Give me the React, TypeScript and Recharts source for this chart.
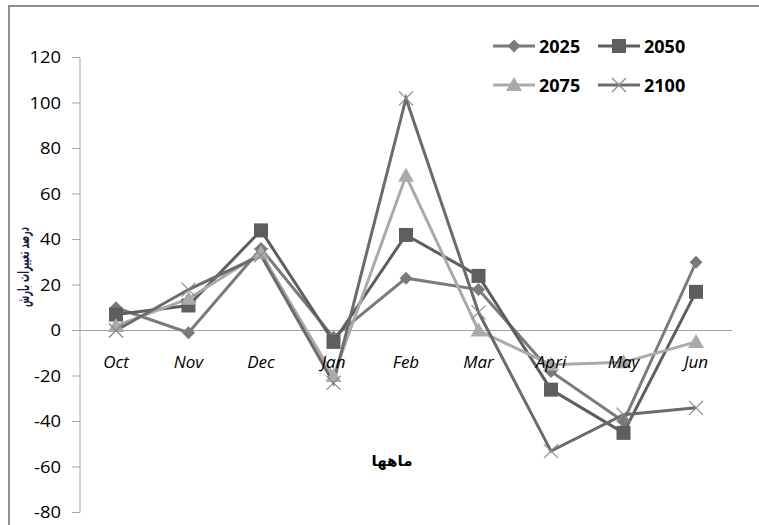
import React from "react";
import { LineChart, Line, XAxis, YAxis, ReferenceLine } from "recharts";

const months = ["Oct", "Nov", "Dec", "Jan", "Feb", "Mar", "Apri", "May", "Jun"];
const s2025 = [10, -1, 36, -3, 23, 18, -18, -40, 30];
const s2050 = [7, 11, 44, -5, 42, 24, -26, -45, 17];
const s2075 = [2, 14, 34, -20, 68, 0, -15, -14, -5];
const s2100 = [0, 18, 33, -23, 102, 8, -53, -37, -34];
const yTicks = [-80, -60, -40, -20, 0, 20, 40, 60, 80, 100, 120];

const series = [
  { key: "2025", values: s2025, color: "#7a7a7a", marker: "diamond" },
  { key: "2050", values: s2050, color: "#5e5e5e", marker: "square" },
  { key: "2075", values: s2075, color: "#aaaaaa", marker: "triangle" },
  { key: "2100", values: s2100, color: "#6b6b6b", marker: "x" },
];

const data = months.map((m, i) => {
  const row: any = { month: m };
  series.forEach((s) => (row[s.key] = s.values[i]));
  return row;
});

const W = 759;
const H = 525;
const TOP = 57.5;
const BOTTOM = 12.5;
const LEFT_AXIS = 80;
const RIGHT = 27;
const Y_MIN = -80;
const Y_MAX = 120;
const plotH = H - TOP - BOTTOM;
const zeroY = TOP + (plotH * (Y_MAX - 0)) / (Y_MAX - Y_MIN);

function Marker({ kind, cx, cy, color }: any) {
  if (cx == null || cy == null) return null;
  if (kind === "diamond") {
    const r = 6.5;
    return (
      <polygon
        points={`${cx},${cy - r} ${cx + r},${cy} ${cx},${cy + r} ${cx - r},${cy}`}
        fill={color}
      />
    );
  }
  if (kind === "square") {
    const r = 7;
    return <rect x={cx - r} y={cy - r} width={2 * r} height={2 * r} fill={color} />;
  }
  if (kind === "triangle") {
    return (
      <polygon
        points={`${cx},${cy - 8} ${cx + 8},${cy + 6} ${cx - 8},${cy + 6}`}
        fill={color}
      />
    );
  }
  const r = 7;
  return (
    <g stroke="#8a8a8a" strokeWidth={1.2}>
      <line x1={cx - r} y1={cy - r} x2={cx + r} y2={cy + r} />
      <line x1={cx - r} y1={cy + r} x2={cx + r} y2={cy - r} />
    </g>
  );
}

const XTick = (props: any) => {
  const { x, payload } = props;
  return (
    <text
      x={x}
      y={zeroY + 37}
      textAnchor="middle"
      fontFamily="'Open Sans', sans-serif"
      fontStyle="italic"
      fontSize={17}
      fill="#000"
    >
      {payload.value}
    </text>
  );
};

const YTick = (props: any) => {
  const { y, payload } = props;
  return (
    <g transform={`translate(61, ${y}) scale(1.15, 1)`}>
      <text
        x={0}
        y={0}
        dy="0.36em"
        textAnchor="end"
        fontFamily="'Open Sans', sans-serif"
        fontSize={16}
        fill="#000"
      >
        {payload.value}
      </text>
    </g>
  );
};

const legendPos = [
  { x: 493, y: 46 },
  { x: 598, y: 46 },
  { x: 493, y: 85 },
  { x: 598, y: 85 },
];

export default function App() {
  return (
    <div
      style={{
        position: "fixed",
        left: 0,
        top: 0,
        width: W,
        height: H,
        overflow: "hidden",
        background: "#fff",
      }}
    >
      <div
        style={{
          position: "absolute",
          left: 8,
          top: 5,
          width: 800,
          height: 600,
          borderLeft: "2px solid #8e8e8e",
          borderTop: "2px solid #8e8e8e",
        }}
      />
      <div style={{ position: "absolute", left: 0, top: 0 }}>
        <LineChart
          width={W}
          height={H}
          data={data}
          margin={{ top: TOP, right: RIGHT, bottom: BOTTOM - 1, left: 0 }}
        >
          <YAxis
            width={LEFT_AXIS}
            domain={[Y_MIN, Y_MAX]}
            ticks={yTicks}
            interval={0}
            allowDataOverflow
            stroke="#a6a6a6"
            tickSize={8}
            tick={<YTick />}
          />
          <XAxis
            dataKey="month"
            height={1}
            axisLine={false}
            tickLine={false}
            interval={0}
            padding={{ left: 36, right: 36 }}
            tick={<XTick />}
          />
          <ReferenceLine y={0} stroke="#a0a0a0" strokeWidth={1.2} />
          {series.map((s) => (
            <Line
              key={s.key}
              dataKey={s.key}
              stroke={s.color}
              strokeWidth={3}
              isAnimationActive={false}
              dot={(p: any) => (
                <Marker key={`${s.key}-${p.index}`} kind={s.marker} cx={p.cx} cy={p.cy} color={s.color} />
              )}
              activeDot={false}
            />
          ))}
        </LineChart>
      </div>
      <svg
        width={W}
        height={H}
        style={{ position: "absolute", left: 0, top: 0, pointerEvents: "none" }}
      >
        {series.map((s, i) => {
          const p = legendPos[i];
          return (
            <g key={s.key}>
              <line x1={p.x} y1={p.y} x2={p.x + 42} y2={p.y} stroke={s.color} strokeWidth={3} />
              <Marker kind={s.marker} cx={p.x + 21} cy={p.y} color={s.color} />
              <text
                x={p.x + 46}
                y={p.y + 7}
                fontFamily="'Open Sans', sans-serif"
                fontWeight="bold"
                fontSize={18}
                fill="#000"
              >
                {s.key}
              </text>
            </g>
          );
        })}
        <text
          x={392}
          y={466}
          textAnchor="middle"
          fontFamily="'DejaVu Sans', sans-serif"
          fontWeight="bold"
          fontSize={15}
          fill="#000"
          direction="rtl"
          textLength={41}
          lengthAdjust="spacingAndGlyphs"
        >
          ماهها
        </text>
        <text
          transform="translate(29, 267) rotate(-90)"
          textAnchor="middle"
          fontFamily="'DejaVu Sans', sans-serif"
          fontWeight="bold"
          fontSize={16}
          fill="#1c1c4a"
          direction="rtl"
          textLength={80}
          lengthAdjust="spacingAndGlyphs"
        >
          درصد تغییرات بارش
        </text>
      </svg>
    </div>
  );
}
